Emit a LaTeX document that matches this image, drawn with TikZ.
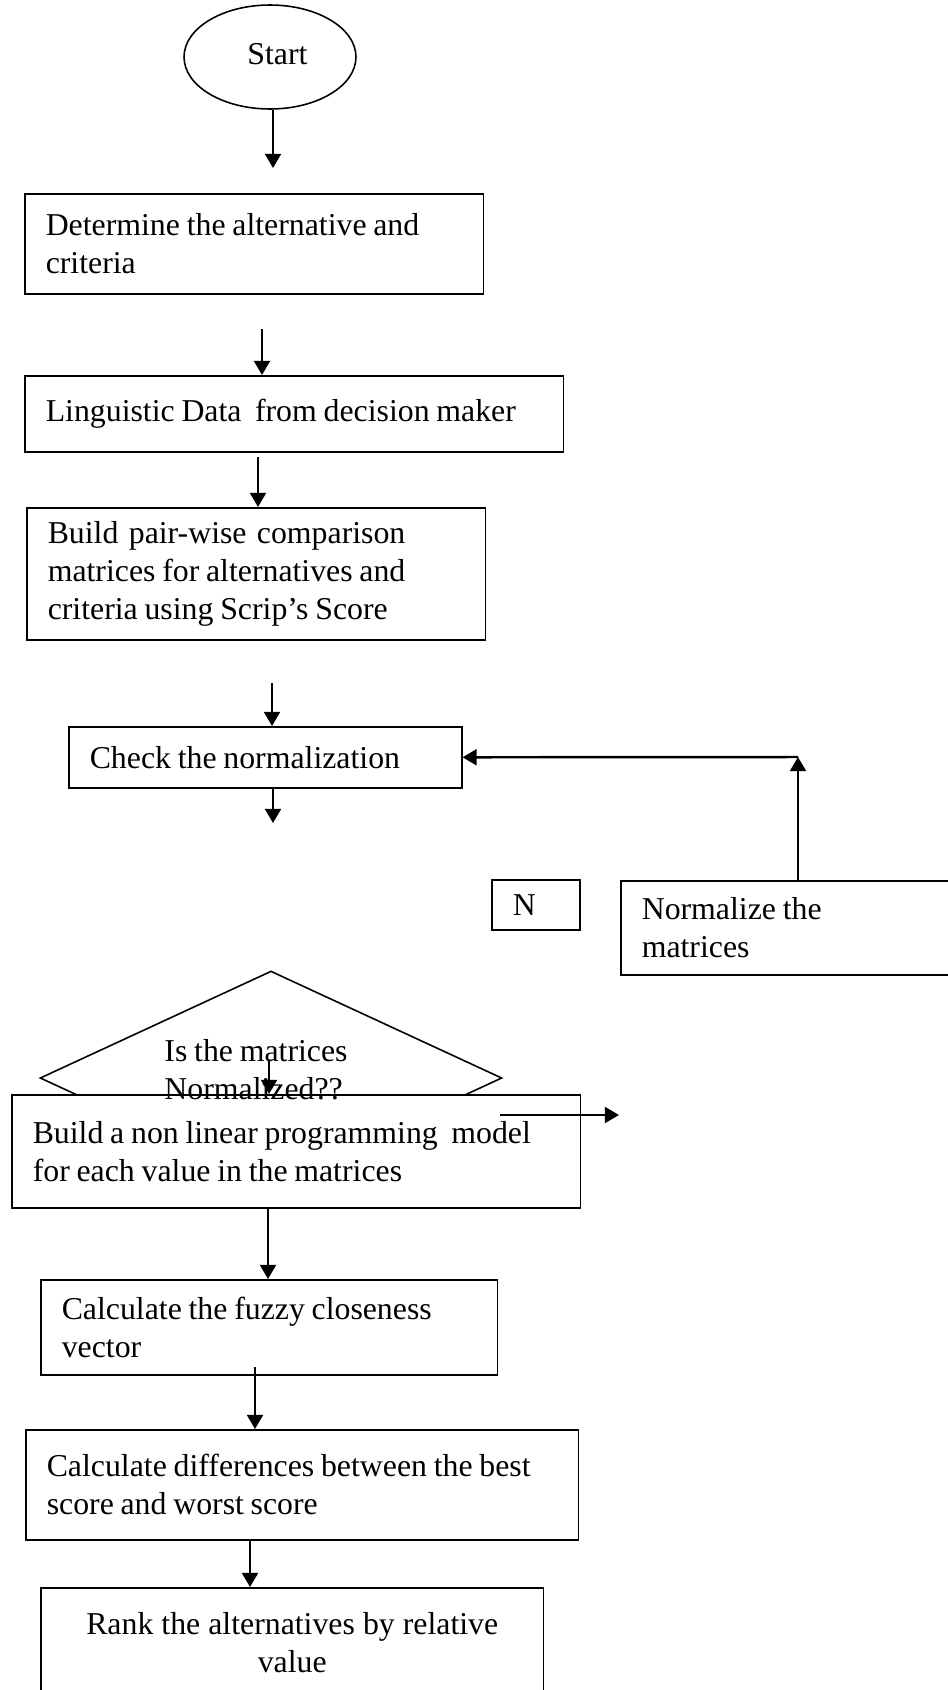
\documentclass[tikz,border=0pt]{standalone}
\usepackage{fontspec}
\usepackage{calc}
\setmainfont[WordSpace=0.85]{Liberation Serif}
\usetikzlibrary{shapes.geometric,arrows.meta}

\tikzset{
  txt/.style={font=\fontsize{18.1}{21.5}\selectfont,
    execute at begin node={\spaceskip=\fontdimen2\font plus \fontdimen3\font minus \fontdimen4\font}},
  box/.style={txt, draw, line width=0.9pt, fill=white, anchor=north west,
    align=left, inner xsep=0.42cm, inner ysep=0pt},
  arr/.style={-{Triangle[length=8pt,width=9pt]}, line width=1.4pt}
}

\begin{document}
\begin{tikzpicture}[x=0.02cm, y=-0.02cm]
        \useasboundingbox (0,0) rectangle (947,1690);

        \node[txt, draw, ellipse, line width=0.9pt, minimum width=3.44cm, minimum height=2.08cm, inner sep=0pt] (start) at (270,57) {\raisebox{0.14cm}{\hspace*{0.3cm}Start}};
        \coordinate (a1) at (273,168);
        \draw[arr] (a1 |- start.south) -- (a1);

        \node[box, text width=8.34cm, minimum height=2.0cm] (det) at (24,193) {Determine the alternative and\\criteria};

        \coordinate (a2) at (262,329);
        \node[box, text width=9.94cm, minimum height=1.52cm] (ling) at (24,375) {Linguistic Data~ from decision maker};
        \draw[arr] (a2) -- (a2 |- ling.north);

        \coordinate (a3) at (258,457);
        \node[box, text width=8.34cm, minimum height=2.64cm] (pair) at (26,507) {\makebox[\widthof{matrices for alternatives and}][s]{Build pair-wise comparison}\\matrices for alternatives and\\criteria using Scrip’s Score};
        \draw[arr] (a3) -- (a3 |- pair.north);

        \coordinate (a4) at (272,683);
        \node[box, text width=7.02cm, minimum height=1.22cm] (check) at (68,726) {Check the normalization};
        \draw[arr] (a4) -- (a4 |- check.north);
        \coordinate (a5) at (273,823);
        \draw[arr] (a5 |- check.south) -- (a5);

        % loop back
        \node[box, text width=0.92cm, minimum height=1.0cm] (no) at (491,879) {N};
        \node[box, text width=5.96cm, minimum height=1.88cm] (norm) at (620,880) {Normalize the\\matrices};
        \coordinate (turn) at (798,757);
        \draw[arr] (turn |- norm.north) -- (turn);
        \draw[arr] (turn) -- (check.east);

        % decision
        \node[draw, diamond, aspect=2.16, line width=0.9pt, minimum width=9.24cm, minimum height=4.28cm, inner sep=0pt] (dec) at (271,1078) {};
        \node[box, text width=10.54cm, minimum height=2.26cm] (build) at (11,1094) {Build a non linear programming~ model\\for each value in the matrices};
        \node[txt, align=left, inner sep=0pt] (decq) at (256,1070) {Is the matrices\\Normalized??};
        \coordinate (a6) at (269,1060);
        \draw[arr] (a6) -- (a6 |- build.north);
        \coordinate (r0) at (500,1115);
        \coordinate (r1) at (619,1115);
        \draw[arr] (r0) -- (r1);

        \coordinate (a8) at (268,1277);
        \node[box, text width=8.30cm, minimum height=1.9cm] (fuzzy) at (40,1279) {Calculate the fuzzy closeness\\vector};
        \draw[arr] (a8 |- build.south) -- (a8 |- fuzzy.north);

        \coordinate (a9) at (255,1367);
        \node[box, text width=10.22cm, minimum height=2.2cm] (diff) at (25,1429) {Calculate differences between the best\\score and worst score};
        \draw[arr] (a9) -- (a9 |- diff.north);

        \coordinate (a10) at (250,1587);
        \node[box, align=center, text width=9.22cm, minimum height=2.2cm] (rank) at (40,1587) {Rank the alternatives by relative\\value};
        \draw[arr] (a10 |- diff.south) -- (a10 |- rank.north);
      \end{tikzpicture}
\end{document}
